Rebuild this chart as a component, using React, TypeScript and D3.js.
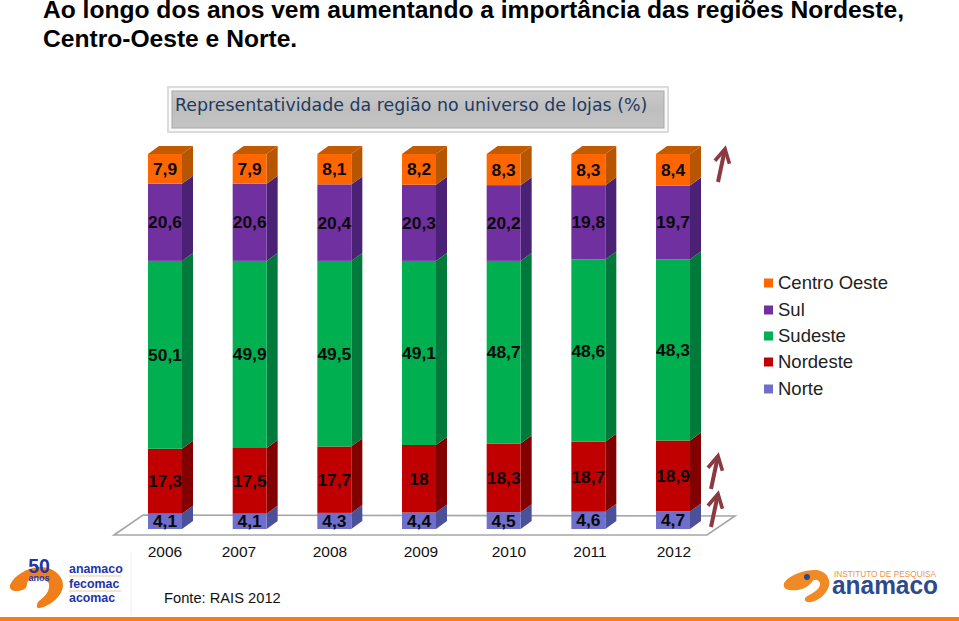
import React from "react";
import * as d3 from "d3";

const years = ["2006", "2007", "2008", "2009", "2010", "2011", "2012"];
const norte = [4.1, 4.1, 4.3, 4.4, 4.5, 4.6, 4.7];
const nordeste = [17.3, 17.5, 17.7, 18, 18.3, 18.7, 18.9];
const sudeste = [50.1, 49.9, 49.5, 49.1, 48.7, 48.6, 48.3];
const sul = [20.6, 20.6, 20.4, 20.3, 20.2, 19.8, 19.7];
const centroOeste = [7.9, 7.9, 8.1, 8.2, 8.3, 8.3, 8.4];

const seriesNames = ["Norte", "Nordeste", "Sudeste", "Sul", "Centro Oeste"];
const seriesValues = [norte, nordeste, sudeste, sul, centroOeste];
const frontColors = ["#6F6FCB", "#C00000", "#00B050", "#7030A0", "#FF6600"];
const sideColors = ["#4A5199", "#820000", "#007A3A", "#4A2174", "#B85600"];
const topColor = "#C25A00";
const yearLabelCentres = [165, 239, 330, 421, 509, 590, 674];
const legendRows = [283, 310, 336, 362, 389];

const W = 959;
const H = 621;
const barW = 34;
const depthX = 11;
const depthY = 8;

const ARIAL = "'Liberation Sans', Arial, sans-serif";

function Arrow({ x1, y1, x2, y2 }: { x1: number; y1: number; x2: number; y2: number }) {
  const a = Math.atan2(y2 - y1, x2 - x1);
  const len = 15.5;
  const spread = 0.5;
  const p = (s: number) => `${x2 - len * Math.cos(a + s)},${y2 - len * Math.sin(a + s)}`;
  return (
    <g fill="none" stroke="#8A3A40" strokeWidth={4}>
      <line x1={x1} y1={y1} x2={x2} y2={y2} />
      <polyline points={`${p(spread)} ${x2},${y2} ${p(-spread)}`} strokeWidth={3.6} />
    </g>
  );
}

export default function App() {
  const x = d3.scalePoint<string>().domain(years).range([148, 656]);
  const y = d3.scaleLinear().domain([0, 1]).range([529, 154]);
  const rows = years.map((yr, i) => {
    const r: Record<string, number | string> = { year: yr };
    seriesNames.forEach((n, s) => (r[n] = seriesValues[s][i]));
    return r;
  });
  const stacked = d3.stack<any>().keys(seriesNames).offset(d3.stackOffsetExpand)(rows);

  return (
    <svg width={W} height={H} viewBox={`0 0 ${W} ${H}`} style={{ position: "absolute", left: 0, top: 0, display: "block", background: "#fff" }}>
      <defs>
        <linearGradient id="boxFill" x1="0" y1="0" x2="0" y2="1">
          <stop offset="0" stopColor="#C9C9C9" />
          <stop offset="0.5" stopColor="#BEBEBE" />
          <stop offset="1" stopColor="#C4C4C4" />
        </linearGradient>
      </defs>
      <g fontFamily={ARIAL} fontWeight="bold" fontSize={24.6} fill="#000">
        <text x={43} y={18}>Ao longo dos anos vem aumentando a importância das regiões Nordeste,</text>
        <text x={43} y={47}>Centro-Oeste e Norte.</text>
      </g>

      <rect x={168} y={87} width={500} height={45} fill="#fafafa" stroke="#dcdcdc" strokeWidth={2} />
      <rect x={172} y={91} width={492} height={37} fill="url(#boxFill)" stroke="#a8a8a8" strokeWidth={1} />
      <text x={175} y={111} fontFamily="'DejaVu Sans', Verdana, sans-serif" fontSize={17.4} fill="#1F3A5F">
        Representatividade da região no universo de lojas (%)
      </text>

      <path d="M114,535 L143,515 L735,516 L707,535 Z" fill="#fff" stroke="#a6a6a6" strokeWidth={1.6} />

      {stacked.map((layer, s) => (
        <g key={seriesNames[s]}>
          {layer.map((d, i) => {
            const x0 = x(years[i]) as number;
            const yTop = y(d[1]);
            const yBot = y(d[0]);
            return (
              <g key={years[i]}>
                <path
                  d={`M${x0 + barW},${yTop} L${x0 + barW + depthX},${yTop - depthY} L${x0 + barW + depthX},${yBot - depthY} L${x0 + barW},${yBot} Z`}
                  fill={sideColors[s]}
                />
                <rect x={x0} y={yTop} width={barW} height={yBot - yTop} fill={frontColors[s]} />
                {s === seriesNames.length - 1 && (
                  <path
                    d={`M${x0},${yTop} L${x0 + depthX},${yTop - depthY} L${x0 + barW + depthX},${yTop - depthY} L${x0 + barW},${yTop} Z`}
                    fill={topColor}
                  />
                )}
              </g>
            );
          })}
        </g>
      ))}

      {stacked.map((layer, s) =>
        layer.map((d, i) => (
          <text
            key={`${s}-${i}`}
            x={(x(years[i]) as number) + barW / 2}
            y={(y(d[0]) + y(d[1])) / 2 + 6}
            textAnchor="middle"
            fontFamily={ARIAL}
            fontWeight="bold"
            fontSize={17.4}
            fill="#0a0a0a"
          >
            {String(seriesValues[s][i]).replace(".", ",")}
          </text>
        ))
      )}

      <g fontFamily={ARIAL} fontSize={15.5} fill="#111">
        {years.map((yr, i) => (
          <text key={yr} x={yearLabelCentres[i]} y={557} textAnchor="middle">{yr}</text>
        ))}
      </g>
      <text x={164} y={603} fontFamily={ARIAL} fontSize={14.7} fill="#111">Fonte: RAIS 2012</text>

      {[...seriesNames].reverse().map((n, i) => (
        <g key={n}>
          <rect x={764} y={legendRows[i] - 4.5} width={9} height={9} fill={frontColors[seriesNames.length - 1 - i]} />
          <text x={778} y={legendRows[i] + 6} fontFamily={ARIAL} fontSize={18.5} fill="#222">{n}</text>
        </g>
      ))}

      <Arrow x1={718} y1={182} x2={725} y2={149} />
      <Arrow x1={711} y1={489} x2={718} y2={456} />
      <Arrow x1={711} y1={527} x2={718} y2={494} />

      <line x1={131} y1={552} x2={131} y2={615} stroke="#eeeeee" />
      <path
        d="M10,585 C14,575 28,568 38,567 C52,566 63,575 63,585 C63,596 50,606 40,608 C36,609 36,604 39,601 C46,596 50,590 49,584 C48,580 42,578 36,578 C32,578 27,580 27,584 C27,589 22,591 17,591 C12,591 9,589 10,585 Z"
        fill="#F07F1A"
      />
      <text x={39} y={573} textAnchor="middle" fontFamily={ARIAL} fontWeight="bold" fontSize={19.5} fill="#2233A8">50</text>
      <text x={39} y={580.5} textAnchor="middle" fontFamily={ARIAL} fontWeight="bold" fontSize={9} fill="#2233A8">anos</text>
      <g fontFamily={ARIAL} fontWeight="bold" fontSize={12.4} fill="#2233A8">
        <text x={69} y={573}>anamaco</text>
        <text x={69} y={588}>fecomac</text>
        <text x={69} y={602}>acomac</text>
      </g>
      <line x1={69} y1={576} x2={121} y2={576} stroke="#e8c9a0" />
      <line x1={69} y1={591} x2={121} y2={591} stroke="#e8c9a0" />

      <path
        d="M784,583 C790,574 805,570 815,570 C825,570 831,578 829,586 C826,595 818,601 811,602 C806,603 803,600 806,597 C812,593 820,590 820,584 C820,580 814,578 812,582 C809,586 804,589 798,590 C790,591 782,590 784,583 Z"
        fill="#F08A24"
      />
      <circle cx={807} cy={577} r={3} fill="#2D4A8C" />
      <text x={834} y={577} fontFamily={ARIAL} fontSize={9.2} fill="#E8964A" textLength={102} lengthAdjust="spacingAndGlyphs">INSTITUTO DE PESQUISA</text>
      <text x={832} y={593.5} fontFamily={ARIAL} fontWeight="bold" fontSize={26} fill="#2D4A8C" textLength={106} lengthAdjust="spacingAndGlyphs">anamaco</text>

      <rect x={0} y={617} width={W} height={4} fill="#F97B16" />
    </svg>
  );
}
